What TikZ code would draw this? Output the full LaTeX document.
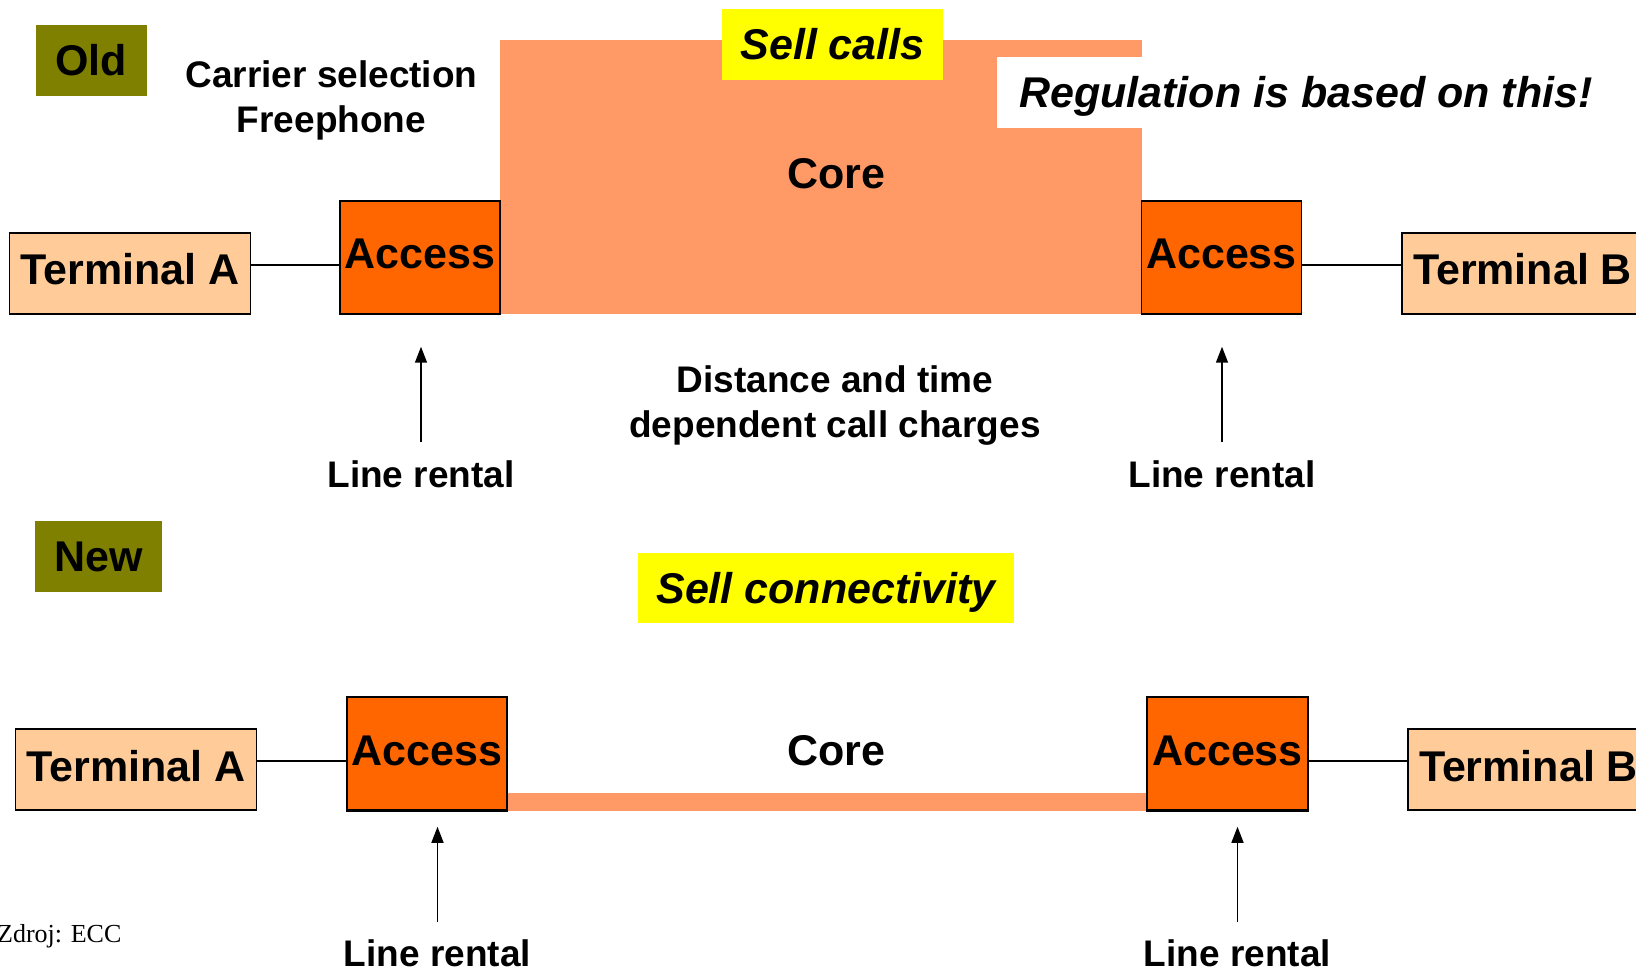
\documentclass[tikz,border=0pt]{standalone}
\usepackage{fontspec}
\setmainfont{Liberation Sans}
\newfontfamily\srcfont{Liberation Serif}
\usepackage{tikz}
\usetikzlibrary{calc}
\usetikzlibrary{arrows.meta}
\definecolor{oldnew}{HTML}{808000}
\definecolor{sellfill}{HTML}{FFFF00}
\definecolor{corefill}{HTML}{FF9966}
\definecolor{accfill}{HTML}{FF6600}
\definecolor{termfill}{HTML}{FFCC99}

\begin{document}
\begin{tikzpicture}[x=1pt,y=-1pt,
  big/.style={font=\fontsize{43}{48}\selectfont\bfseries, text height=30pt, text depth=0pt, inner sep=0pt},
  small/.style={font=\fontsize{37}{45}\selectfont\bfseries, inner sep=0pt},
  rental/.style={small, text height=26.5pt, text depth=0pt, anchor=north},
  era/.style={big, fill=oldnew, minimum height=71pt},
  sell/.style={big, fill=sellfill, font=\fontsize{43}{48}\selectfont\bfseries\itshape, minimum height=71pt},
  box/.style={big, draw, line width=1.5pt, text depth=7pt},
  term/.style={box, fill=termfill, minimum width=241pt, minimum height=81pt},
  acc/.style={box, fill=accfill, minimum width=160pt, minimum height=113pt},
  wire/.style={line width=1.2pt},
  up/.style={line width=1.5pt, -{Triangle[length=16pt,width=12pt]}}]
\clip (0,0) rectangle (1636,973);

\fill[corefill] (500,40) rectangle (1142,314);
\node[big] (coreold) at (836.5,173.5) {Core};
\node[big, fill=white, anchor=west, minimum height=71pt, inner xsep=22pt] (regul) at (997,92.5) {\itshape Regulation is based on this!};
\node[sell, minimum width=221pt] (sellcalls) at (832.5,44.5) {Sell calls};

\node[era, minimum width=111pt] (old) at (91.3,60.5) {Old};
\node[small, align=center, anchor=north] (carrier) at (331.5,60) {Carrier selection\\Freephone};

\node[term] (termA) at (130,273.5) {Terminal A};
\node[acc] (accA) at (420,257.5) {Access};
\node[acc] (accB) at (1221.5,257.5) {Access};
\node[term] (termB) at (1522.5,273.5) {Terminal B};
\draw[wire] ([yshift=8.5pt]termA.east) -- ([yshift=8.5pt]termA.east -| accA.west);
\draw[wire] ([yshift=8.5pt]termB.west -| accB.east) -- ([yshift=8.5pt]termB.west);

\node[small, align=center, anchor=north] (charges) at (835,365) {Distance and time\\dependent call charges};
\node[rental] (rentA) at (421,461) {Line rental};
\node[rental] (rentB) at (1222,461) {Line rental};
\draw[up, shorten <=19pt, shorten >=32pt] (rentA.north) -- (rentA.north |- accA.south);
\draw[up, shorten <=19pt, shorten >=32pt] (rentB.north) -- (rentB.north |- accB.south);

\node[era, minimum width=127pt] (new) at (98.5,556.5) {New};
\node[sell, minimum width=376pt, minimum height=70pt] (sellconn) at (826,588) {Sell connectivity};

\node[term] (termNA) at (136,769.5) {Terminal A};
\node[acc] (accNA) at (427,753.5) {Access};
\node[acc, minimum width=161pt] (accNB) at (1227.5,753.5) {Access};
\node[term] (termNB) at (1528.5,769.5) {Terminal B};
\fill[corefill] ([yshift=18pt]accNA.south east) rectangle (accNB.south west);
\draw[line width=1.5pt] (accNA.south east) -- (accNA.south west);
\draw[line width=1.5pt] (accNB.south east) -- (accNB.south west);
\node[big] (corenew) at (836.5,750.5) {Core};
\draw[wire] ([yshift=8.5pt]termNA.east) -- ([yshift=8.5pt]termNA.east -| accNA.west);
\draw[wire] ([yshift=8.5pt]termNB.west -| accNB.east) -- ([yshift=8.5pt]termNB.west);

\node[rental] (rentNA) at (437.5,940) {Line rental};
\node[rental] (rentNB) at (1237.5,940) {Line rental};
\draw[up, shorten <=18pt, shorten >=16pt] (rentNA.north) -- (rentNA.north |- accNA.south);
\draw[up, shorten <=18pt, shorten >=16pt] (rentNB.north) -- (rentNB.north |- accNB.south);

\node[font=\srcfont\fontsize{26}{30}\selectfont, inner sep=0pt, anchor=base west] (source) at (-3,942) {Zdroj: ECC};
\end{tikzpicture}
\end{document}
